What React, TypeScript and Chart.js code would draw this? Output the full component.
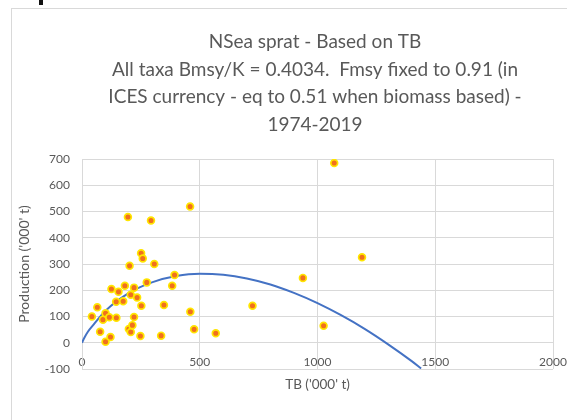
import React, { useEffect, useRef } from "react";
import { Chart, registerables } from "chart.js";

Chart.register(...registerables);

const titleLines = [
  "NSea sprat - Based on TB",
  "All taxa Bmsy/K = 0.4034.  Fmsy fixed to 0.91 (in",
  "ICES currency - eq to 0.51 when biomass based) -",
  "1974-2019",
];
const xAxisTitle = "TB ('000' t)";
const yAxisTitle = "Production ('000' t)";

// Observed TB ('000 t) and production ('000 t)
const tbValues = [
  42, 65, 77, 89, 100, 100, 116, 121, 125, 145, 146, 155, 175, 182, 195, 202,
  199, 207, 207, 214, 221, 221, 234, 251, 258, 252, 248, 275, 293, 307, 336,
  348, 383, 393, 459, 460, 476, 568, 724, 938, 1026, 1071, 1189,
];
const productionValues = [
  100, 135, 42, 88, 112, 4, 97, 22, 205, 156, 95, 194, 158, 217, 479, 293,
  52, 41, 183, 67, 210, 98, 172, 341, 321, 141, 26, 230, 466, 300, 27,
  144, 217, 258, 519, 118, 51, 36, 141, 247, 65, 685, 326,
];

// Fitted surplus production curve
const curveTB = [0, 10, 25, 50, 100, 200, 300, 400, 500, 600, 700, 800, 900, 1000, 1100, 1200, 1300, 1400, 1440];
const curveProd = [0, 19, 42, 70, 122, 190, 231, 254, 263, 259, 245, 222, 190, 151, 105, 53, -6, -70, -98];

const xTicks = [0, 500, 1000, 1500, 2000];
const yTicks = [-100, 0, 100, 200, 300, 400, 500, 600, 700];

const FONT = "Lato, 'Open Sans', sans-serif";
const TEXT = "#595959";
const GRID = "#d9d9d9";

const overlayText = {
  id: "overlayText",
  afterDraw(chart: any) {
    const ctx = chart.ctx;
    const area = chart.chartArea;
    ctx.save();
    ctx.fillStyle = TEXT;
    ctx.textAlign = "center";
    ctx.textBaseline = "middle";
    ctx.font = `19px ${FONT}`;
    const ys = [41.5, 69.5, 97, 124.5];
    titleLines.forEach((t, i) => ctx.fillText(t, 315, ys[i]));
    ctx.font = `13.5px ${FONT}`;
    ctx.fillText(xAxisTitle, (area.left + area.right) / 2, 385);
    ctx.restore();
  },
};

export default function App() {
  const ref = useRef<HTMLCanvasElement | null>(null);
  useEffect(() => {
    if (!ref.current) return;
    const scatter = tbValues.map((x, i) => ({ x, y: productionValues[i] }));
    const curve = curveTB.map((x, i) => ({ x, y: curveProd[i] }));
    const chart = new Chart(ref.current, {
      type: "scatter",
      data: {
        datasets: [
          {
            label: "Observed",
            data: scatter,
            backgroundColor: "#F0701E",
            borderColor: "#FFE600",
            borderWidth: 1.7,
            pointRadius: 3.4,
          },
          {
            label: "Fit",
            type: "line",
            data: curve,
            showLine: true,
            borderColor: "#4472C4",
            borderWidth: 2,
            pointRadius: 0,
            cubicInterpolationMode: "monotone",
            fill: false,
          } as any,
        ],
      },
      options: {
        animation: false,
        responsive: false,
        devicePixelRatio: 1,
        layout: { padding: { top: 159, bottom: 51, right: 14, left: 0 } },
        plugins: {
          legend: { display: false },
          title: { display: false },
          tooltip: { enabled: false },
        },
        scales: {
          x: {
            type: "linear",
            position: { y: 0 } as any,
            min: 0,
            max: 2000,
            afterFit: (s: any) => {
              s.height = 0;
              s.paddingLeft = 0;
              s.paddingRight = 0;
            },
            afterBuildTicks: (s: any) => {
              s.ticks = xTicks.map((v) => ({ value: v }));
            },
            grid: { color: GRID, drawTicks: false, lineWidth: 1 },
            border: { color: GRID },
            ticks: {
              color: TEXT,
              font: { family: FONT, size: 12 },
              padding: 12,
              maxRotation: 0,
              callback: (v: any) => String(v),
            },
          },
          y: {
            type: "linear",
            position: "left",
            min: -100,
            max: 700,
            afterFit: (s: any) => {
              s.width = 82;
              s.paddingTop = 0;
              s.paddingBottom = 0;
            },
            afterBuildTicks: (s: any) => {
              s.ticks = yTicks.map((v) => ({ value: v }));
            },
            grid: { color: GRID, drawTicks: false, lineWidth: 1 },
            border: { color: GRID },
            ticks: {
              color: TEXT,
              font: { family: FONT, size: 12 },
              padding: 12,
              callback: (v: any) => String(v),
            },
            title: {
              display: true,
              text: yAxisTitle,
              color: TEXT,
              font: { family: FONT, size: 14 },
              padding: { top: 16, bottom: 0 },
            },
          },
        },
      },
      plugins: [overlayText],
    });
    return () => chart.destroy();
  }, []);

  return (
    <div style={{ position: "absolute", left: 0, top: 0, width: 567, height: 420, background: "#fff", overflow: "hidden" }}>
      <div style={{ position: "absolute", left: 39, top: 0, width: 4, height: 5, background: "#111" }} />
      <div
        style={{
          position: "absolute",
          left: 11,
          top: 8,
          width: 620,
          height: 460,
          borderLeft: `1px solid ${GRID}`,
          borderTop: `1px solid ${GRID}`,
        }}
      />
      <canvas ref={ref} width={567} height={420} style={{ position: "absolute", left: 0, top: 0, width: 567, height: 420 }} />
    </div>
  );
}
